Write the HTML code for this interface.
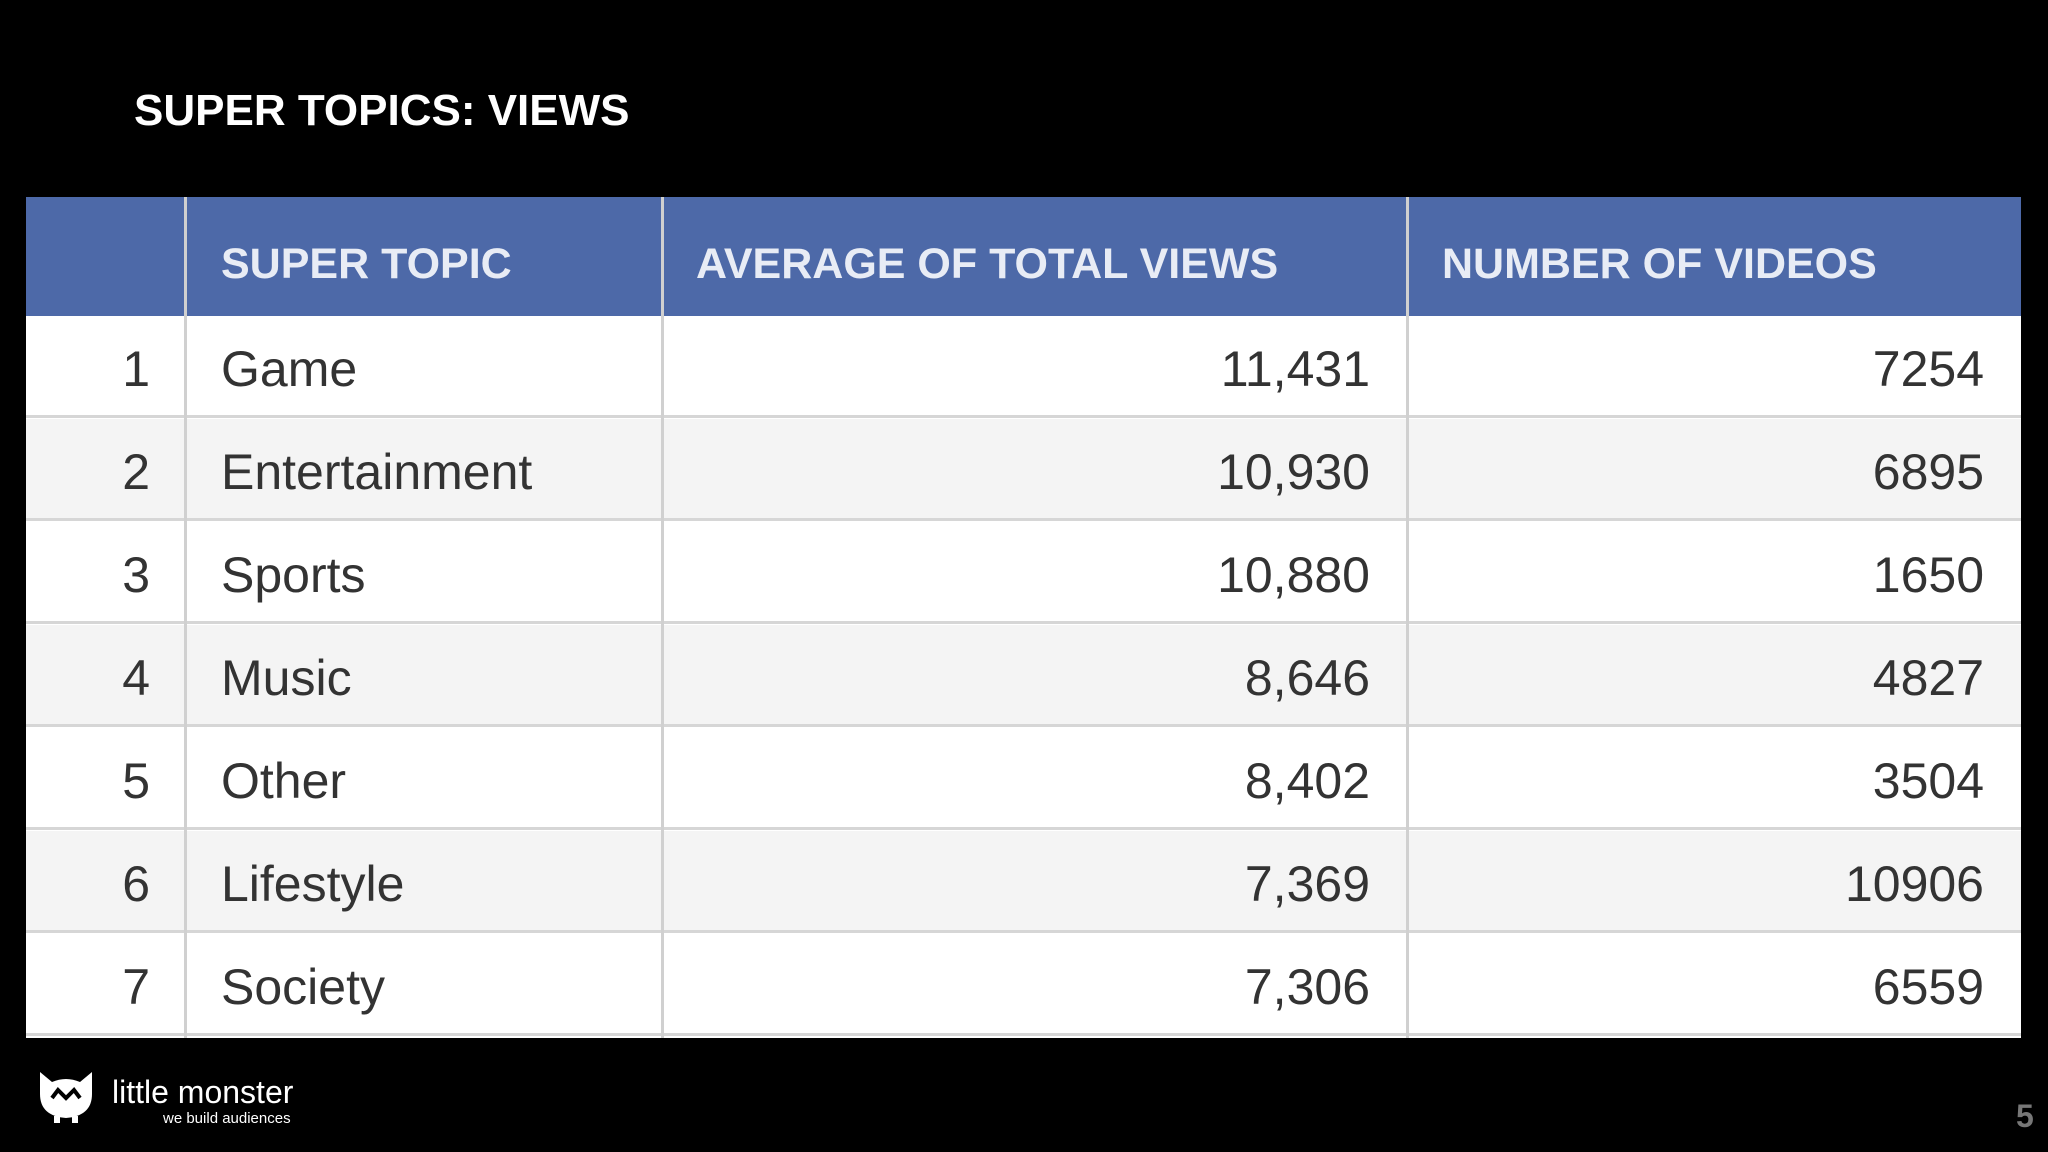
<!DOCTYPE html>
<html>
<head>
<meta charset="utf-8">
<style>
  html,body{margin:0;padding:0;background:#000;}
  body{width:2048px;height:1152px;position:relative;overflow:hidden;font-family:"Liberation Sans",sans-serif;}
  #title{position:absolute;left:134px;top:86px;color:#fff;font-size:44px;font-weight:bold;letter-spacing:0px;}
  #tbl{position:absolute;left:26px;top:197px;width:1995px;height:841px;background:#fff;}
  .hdr{position:absolute;left:0;top:0;width:1995px;height:119px;background:#4d69a8;}
  .hcell{position:absolute;top:0;height:119px;line-height:134px;color:#e8ecf5;font-size:43px;font-weight:bold;letter-spacing:0px;}
  .row{position:absolute;left:0;width:1995px;height:102px;border-bottom:3px solid #d6d6d6;box-sizing:border-box;}
  .cell{position:absolute;top:0;height:100px;line-height:106px;color:#333;font-size:50px;}
  .vline{position:absolute;top:0;width:3px;height:841px;background:#d0d0d0;}
  #logo{position:absolute;left:34px;top:1068px;}
  #brand{position:absolute;left:112px;top:1074px;color:#fff;font-size:32px;}
  #tag{position:absolute;left:163px;top:1110px;color:#fff;font-size:15px;}
  #pagenum{position:absolute;left:2016px;top:1098px;color:#777;font-size:32px;font-weight:bold;}
</style>
</head>
<body>
<div id="title">SUPER TOPICS: VIEWS</div>
<div id="tbl">
  <div class="hdr">
    <div class="hcell" style="left:195px">SUPER TOPIC</div>
    <div class="hcell" style="left:670px">AVERAGE OF TOTAL VIEWS</div>
    <div class="hcell" style="left:1416px">NUMBER OF VIDEOS</div>
  </div>
  <div id="rows"></div>
  <div class="vline" style="left:158px"></div>
  <div class="vline" style="left:635px"></div>
  <div class="vline" style="left:1380px"></div>
</div>
<svg id="logo" width="64" height="56" viewBox="0 0 64 56">
  <path d="M6 4 L18 14 Q32 8 46 14 L58 4 L58 26 Q58 48 32 50 Q6 48 6 26 Z" fill="#fff"/>
  <path d="M18 30 L24 22 L32 30 L40 22 L46 30" stroke="#000" stroke-width="4" fill="none"/>
  <rect x="20" y="48" width="6" height="7" fill="#fff"/><rect x="38" y="48" width="6" height="7" fill="#fff"/>
</svg>
<div id="brand">little monster</div>
<div id="tag">we build audiences</div>
<div id="pagenum">5</div>
<script>
const ranks = ["1","2","3","4","5","6","7"];
const topics = ["Game","Entertainment","Sports","Music","Other","Lifestyle","Society"];
const avgViews = ["11,431","10,930","10,880","8,646","8,402","7,369","7,306"];
const numVideos = ["7254","6895","1650","4827","3504","10906","6559"];
const rowsEl = document.getElementById('rows');
for (let i = 0; i < topics.length; i++) {
  const r = document.createElement('div');
  r.className = 'row';
  r.style.top = (119 + i * 103) + 'px';
  r.style.background = i % 2 ? '#f4f4f4' : '#fff';
  
  
  const cells = [
    [ranks[i], 'right:1871px', 'rank'],
    [topics[i], 'left:195px', 'topic'],
    [avgViews[i], 'right:651px', 'average-views'],
    [numVideos[i], 'right:37px', 'number-videos']
  ];
  for (const c of cells) {
    const d = document.createElement('div');
    d.className = 'cell';
    d.style.cssText = c[1];
    d.textContent = c[0];
    
    
    r.appendChild(d);
  }
  rowsEl.appendChild(r);
}
</script>
</body>
</html>
